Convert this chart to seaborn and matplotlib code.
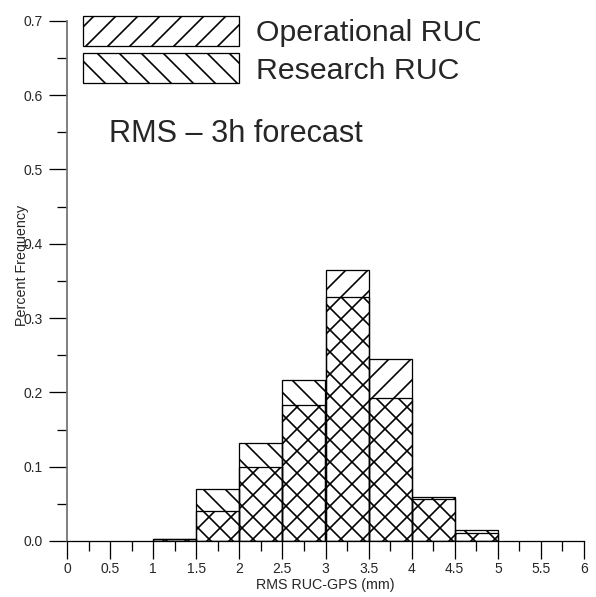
import numpy as np
import pandas as pd
import matplotlib
matplotlib.use("Agg")
import matplotlib.pyplot as plt
from matplotlib.patches import Patch
from matplotlib.ticker import MultipleLocator
from matplotlib.transforms import Bbox, TransformedBbox
import seaborn as sns

# ---- data ----
bin_edges = [1.0, 1.5, 2.0, 2.5, 3.0, 3.5, 4.0, 4.5, 5.0]
operational = [0.003, 0.040, 0.100, 0.183, 0.365, 0.245, 0.057, 0.011]
research = [0.003, 0.070, 0.132, 0.217, 0.328, 0.193, 0.059, 0.015]
x_ticks = [0, 0.5, 1, 1.5, 2, 2.5, 3, 3.5, 4, 4.5, 5, 5.5, 6]
x_tick_labels = ["0", "0.5", "1", "1.5", "2", "2.5", "3", "3.5", "4", "4.5", "5", "5.5", "6"]
y_ticks = [0.0, 0.1, 0.2, 0.3, 0.4, 0.5, 0.6, 0.7]
y_tick_labels = ["0.0", "0.1", "0.2", "0.3", "0.4", "0.5", "0.6", "0.7"]
series_names = ["Operational RUC", "Research RUC"]

sns.set_style("white")
plt.rcParams["font.family"] = ["Liberation Sans", "DejaVu Sans"]
plt.rcParams["hatch.linewidth"] = 0.9
plt.rcParams["hatch.color"] = "black"

DPI = 132
fig = plt.figure(figsize=(596 / DPI, 597 / DPI), dpi=DPI)
ax = fig.add_axes([67 / 596, 1 - 541 / 597, 517 / 596, (541 - 20.7) / 597])

centers = [(a + b) / 2 for a, b in zip(bin_edges[:-1], bin_edges[1:])]
df = pd.DataFrame({"center": centers, "op": operational, "res": research})

hatches = ["//", "\\\\"]
for col, h in zip(["op", "res"], hatches):
    n0 = len(ax.patches)
    sns.histplot(data=df, x="center", weights=col, bins=bin_edges, stat="count",
                 element="bars", fill=True, ax=ax, legend=False)
    for p in ax.patches[n0:]:
        p.set_facecolor("none")
        p.set_edgecolor("black")
        p.set_linewidth(0.7)
        p.set_hatch(h)

ax.set_xlim(0, 6)
ax.set_ylim(0, 0.7)
ax.set_xticks(x_ticks)
ax.set_xticklabels(x_tick_labels)
ax.set_yticks(y_ticks)
ax.set_yticklabels(y_tick_labels)
ax.xaxis.set_minor_locator(MultipleLocator(0.25))
ax.yaxis.set_minor_locator(MultipleLocator(0.05))
ax.tick_params(axis="both", which="major", direction="out", length=10, width=0.7,
               labelsize=7.6, color="black", bottom=True, left=True)
ax.tick_params(axis="both", which="minor", direction="out", length=5.5, width=0.7,
               color="black", bottom=True, left=True)
ax.tick_params(axis="y", which="major", pad=3.3)
ax.tick_params(axis="x", which="major", pad=1.5)

for s in ["top", "right"]:
    ax.spines[s].set_visible(False)
ax.spines["left"].set_color("#777777")
ax.spines["left"].set_linewidth(1.0)
ax.spines["bottom"].set_color("black")
ax.spines["bottom"].set_linewidth(0.7)

ax.set_xlabel("RMS RUC-GPS (mm)", fontsize=7.8, labelpad=1)
ax.set_ylabel("Percent Frequency", fontsize=7.8)
ax.yaxis.set_label_coords(-0.074, 0.53)

handles = [Patch(facecolor="none", edgecolor="black", hatch=h, linewidth=0.7) for h in hatches]
leg = ax.legend(handles, series_names, loc="upper left", bbox_to_anchor=(0.031, 1.009),
                frameon=False, fontsize=16.5, handlelength=5.15, handleheight=1.15,
                handletextpad=0.56, labelspacing=0.2, borderpad=0, borderaxespad=0)
clip = TransformedBbox(Bbox([[0, 0], [480 / 596, 1]]), fig.transFigure)
for t in leg.get_texts():
    t.set_clip_on(True)
    t.set_clip_box(clip)

ax.text(109 / 596, 1 - 134 / 597, "RMS – 3h forecast", transform=fig.transFigure,
        fontsize=16.7, ha="left", va="center")

fig.savefig("out.png", dpi=DPI)
